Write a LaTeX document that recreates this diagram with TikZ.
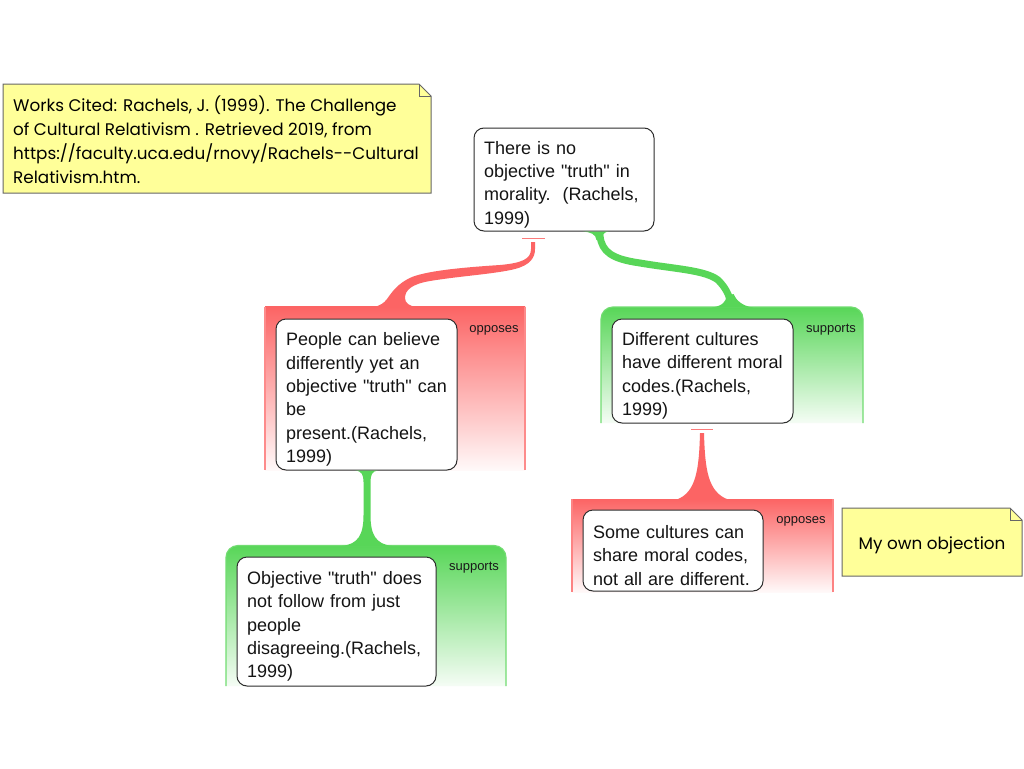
\documentclass[tikz,border=0pt]{standalone}
\usepackage{fontspec}
\setmainfont{Liberation Sans}[Ligatures=TeXOff]
\newfontfamily\notefont{Poppins}
\definecolor{Rd}{RGB}{252,100,100}
\definecolor{Gn}{RGB}{88,214,88}
\definecolor{noteY}{RGB}{255,255,153}
\definecolor{edgeC}{RGB}{45,45,45}
\begin{document}
\begin{tikzpicture}[x=1pt,y=-1pt,
  claim/.style={draw=edgeC, line width=1pt, rounded corners=10pt, fill=white,
    inner xsep=10pt, inner ysep=0pt, align=left, text=black!92,
    font=\fontsize{18}{23.4}\selectfont, execute at begin node={\rule{0pt}{23pt}}},
  rel/.style={font=\fontsize{13}{15}\selectfont, text=black!90, inner sep=0pt},
  notebox/.style={fill=noteY, draw=black!60, line width=1pt},
  notetext/.style={font=\notefont\fontsize{16.8}{24}\selectfont, inner sep=0pt, align=left, text=black},
  tbar/.style={draw=Rd!85, line width=1.6pt},
]
\useasboundingbox (0,0) rectangle (1024,768);
\fill[white] (0,0) rectangle (1024,768);

% ---------- notes ----------
\draw[notebox] (3,84) -- (419,84) -- (431,96) -- (431,193) -- (3,193) -- cycle;
\draw[black!60, line width=1pt] (419,84) -- (419,96) -- (431,96);
\node[notetext, anchor=west] (cite) at (13,140) {Works Cited: Rachels, J. (1999). The Challenge\\
of Cultural Relativism . Retrieved 2019, from\\
https://faculty.uca.edu/rnovy/Rachels--Cultural\\
Relativism.htm.};

\draw[notebox] (842,508) -- (1010,508) -- (1022,520) -- (1022,576) -- (842,576) -- cycle;
\draw[black!60, line width=1pt] (1010,508) -- (1010,520) -- (1022,520);
\node[notetext] (own) at (932,545) {My own objection};

% ---------- panels ----------
\shade[top color=Rd, bottom color=Rd!4] (265,306.5) rectangle (525,470);
\draw[Rd!75, line width=1.2pt] (265,306.5) -- (265,470) (525,306.5) -- (525,470);

\shade[top color=Gn, bottom color=Gn!6, rounded corners=12pt] (601,423) -- (601,307) -- (863,307) -- (863,423);
\draw[Gn!85, line width=1.2pt, rounded corners=12pt] (601,423) -- (601,307) -- (863,307) -- (863,423);

\shade[top color=Gn, bottom color=Gn!6, rounded corners=12pt] (226,686) -- (226,545.5) -- (506,545.5) -- (506,686);
\draw[Gn!85, line width=1.2pt, rounded corners=12pt] (226,686) -- (226,545.5) -- (506,545.5) -- (506,686);

\shade[top color=Rd, bottom color=Rd!4] (572,499) rectangle (833,592);
\draw[Rd!80, line width=1.2pt] (572,499) -- (572,592) (833,499) -- (833,592);

% ---------- claims ----------
\node[claim, text width=160pt, minimum height=103pt] (root) at (564,179.5) {There is no\\
objective "truth" in\\
morality.\ \ (Rachels,\\
1999)};

\node[claim, text width=161pt, minimum height=151pt] (left) at (366.5,394.5) {People can believe\\
differently yet an\\
objective "truth" can\\
be\\
present.(Rachels,\\
1999)};

\node[claim, text width=161pt, minimum height=104pt] (right) at (702.5,371) {Different cultures\\
have different moral\\
codes.(Rachels,\\
1999)};

\node[claim, text width=179pt, minimum height=129pt] (bl) at (336.5,621.5) {Objective "truth" does\\
not follow from just\\
people\\
disagreeing.(Rachels,\\
1999)};

\node[claim, text width=160pt, minimum height=81pt] (br) at (673,550.5) {Some cultures can\\
share moral codes,\\
not all are different.};

% ---------- connectors ----------
% root -> left (opposes)
\coordinate (rootR) at (533,238.5);
\draw[tbar] ([xshift=-11pt]rootR) -- ([xshift=12pt]rootR);
\fill[Rd] (531,242) -- (531,249) .. controls (531,259) and (522,263) .. (500,265)
  .. controls (470,267) and (430,270) .. (412,277)
  .. controls (398,283) and (392,292) .. (387,299)
  .. controls (384,303) and (380,306) .. (373,307)
  -- (417,307) .. controls (409,306) and (405,303) .. (405,298)
  .. controls (405,290) and (412,284) .. (430,281)
  .. controls (460,276) and (495,274) .. (515,269)
  .. controls (530,265) and (535,258) .. (535,249) -- (535,242) -- cycle;

% root -> right (supports)
\coordinate (rootG) at (600,236);
\coordinate (rpTop) at (731.5,305);
\fill[Gn] (583,231.5) .. controls (590,232) and (596,234) .. (596.5,240) -- (603.5,240)
  .. controls (602,234) and (604,232) .. (609,231.5) -- cycle;
\draw[Gn, line width=7pt] (rootG) .. controls (602,252) and (612,259) .. (640,263)
  .. controls (675,269) and (705,270) .. (718,280)
  .. controls (725,287) and (729,294) .. (rpTop);
\fill[Gn] (712,307.5) .. controls (722,306) and (726,302) .. (726.5,296) -- (733.5,294)
  .. controls (736,300) and (742,306) .. (753,307.5) -- cycle;

% left -> bottom-left (supports)
\fill[Gn] ([xshift=-11.5pt]left.south) .. controls (362,471) and (363.5,475) .. (363.5,482)
  -- (363.5,515) .. controls (363.5,535) and (358,544) .. (342,546)
  -- (392,546) .. controls (376,544) and (370.5,535) .. (370.5,515)
  -- (370.5,482) .. controls (370.5,475) and (372,471) .. ([xshift=11.5pt]left.south) -- cycle;

% right -> bottom-right (opposes)
\coordinate (rightR) at (702,429.5);
\draw[tbar] ([xshift=-11pt]rightR) -- ([xshift=11pt]rightR);
\fill[Rd] (700,433) -- (704,433) .. controls (705,470) and (708,492) .. (728,499.5)
  -- (677,499.5) .. controls (696,492) and (699,470) .. (700,433) -- cycle;

% ---------- relation labels ----------
\node[rel] (l1) at (494,330) {opposes};
\node[rel] (l2) at (831,330) {supports};
\node[rel] (l3) at (474,568) {supports};
\node[rel] (l4) at (801,521) {opposes};
\end{tikzpicture}
\end{document}
